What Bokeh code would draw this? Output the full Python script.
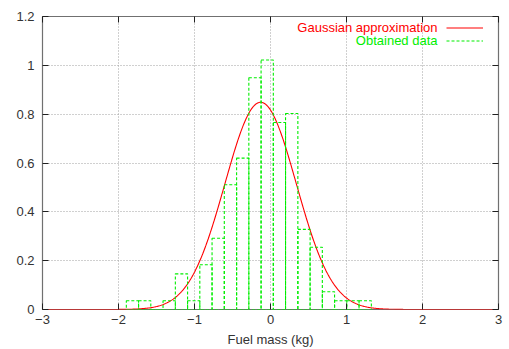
import numpy as np
from bokeh.plotting import figure
from bokeh.models import (FixedTicker, LinearAxis, Legend, LegendItem, Label,
                          ColumnDataSource, CustomJSTickFormatter)
from bokeh.core.properties import value
from bokeh.embed import file_html
from bokeh.resources import INLINE

# Histogram of obtained fuel mass deviations (normalised density)
bin_edges = [-1.897, -1.736, -1.575, -1.414, -1.252, -1.091, -0.930, -0.769,
             -0.608, -0.446, -0.285, -0.124, 0.037, 0.198, 0.360, 0.521,
             0.682, 0.843, 1.004, 1.165, 1.327]
density = [0.036, 0.036, 0.0, 0.036, 0.146, 0.036, 0.183, 0.292, 0.511,
           0.620, 0.949, 1.022, 0.766, 0.803, 0.328, 0.255, 0.073, 0.036,
           0.036, 0.036]

# Gaussian approximation parameters
gauss_mu = -0.13
gauss_sigma = 0.47

x_ticks = [-3, -2, -1, 0, 1, 2, 3]
y_ticks = [0, 0.2, 0.4, 0.6, 0.8, 1.0, 1.2]
y_tick_labels = ["0", "0.2", "0.4", "0.6", "0.8", "1", "1.2"]

FONT = "Liberation Sans"
RED = "#ff0000"
GREEN = "#00ee00"

p = figure(width=509, height=349, x_range=(-3, 3), y_range=(0, 1.2),
           output_backend="svg", toolbar_location=None,
           min_border_left=42, min_border_right=11, min_border_top=16,
           min_border_bottom=40)
p.background_fill_color = "white"
p.border_fill_color = "white"
p.outline_line_color = "#707070"
p.outline_line_width = 1.2

# grid
for g in (p.xgrid, p.ygrid):
    g.grid_line_color = "#a0a0a0"
    g.grid_line_dash = "1 2"
    g.grid_line_width = 1
p.xgrid.ticker = FixedTicker(ticks=x_ticks)
p.ygrid.ticker = FixedTicker(ticks=y_ticks)


def style_axis(ax, ticks):
    ax.ticker = FixedTicker(ticks=ticks)
    ax.axis_line_color = None
    ax.major_tick_in = 6
    ax.major_tick_out = 0
    ax.major_tick_line_color = "#202020"
    ax.minor_tick_line_color = None
    ax.major_label_text_font = FONT
    ax.major_label_text_font_size = "13px"
    ax.major_label_text_color = "#333333"


style_axis(p.xaxis[0], x_ticks)
style_axis(p.yaxis[0], y_ticks)
p.yaxis[0].major_label_overrides = {t: s for t, s in zip(y_ticks, y_tick_labels)}
p.yaxis[0].major_label_standoff = 8
p.xaxis[0].major_label_standoff = 5
p.xaxis[0].axis_label = "Fuel mass (kg)"
p.xaxis[0].axis_label_text_font = FONT
p.xaxis[0].axis_label_text_font_size = "13px"
p.xaxis[0].axis_label_text_font_style = "normal"
p.xaxis[0].axis_label_text_color = "#333333"
p.xaxis[0].axis_label_standoff = 5

# mirrored ticks on top and right, without labels
for ax, ticks, side in ((LinearAxis(), x_ticks, "above"),
                        (LinearAxis(), y_ticks, "right")):
    style_axis(ax, ticks)
    ax.formatter = CustomJSTickFormatter(code="return ''")
    ax.major_label_standoff = 0
    p.add_layout(ax, side)

# Gaussian curve
gx = np.linspace(-3, 3, 601)
gy = np.exp(-0.5 * ((gx - gauss_mu) / gauss_sigma) ** 2) / (gauss_sigma * np.sqrt(2 * np.pi))
r_gauss = p.line(gx, gy, line_color=RED, line_width=1.1)

# histogram boxes
hist = ColumnDataSource(dict(left=bin_edges[:-1], right=bin_edges[1:],
                             top=density, bottom=[0.0] * len(density)))
p.quad(left="left", right="right", top="top", bottom="bottom", source=hist,
       fill_alpha=0, line_color=GREEN, line_width=1.1, line_dash="3 2")

# key sample for the dashed boxes (a line renderer with no visible points)
r_data_key = p.line(x=[np.nan], y=[np.nan], line_color=GREEN, line_width=1.1,
                    line_dash="3 2")

legend = Legend(items=[LegendItem(label=value(" "), renderers=[r_gauss]),
                       LegendItem(label=value(" "), renderers=[r_data_key])],
                location=(404, 262), glyph_width=37, glyph_height=13,
                label_height=13, label_width=0, label_standoff=0,
                label_text_font_size="1px", padding=0, spacing=0, margin=0,
                border_line_alpha=0, background_fill_alpha=0)
p.add_layout(legend)

p.add_layout(Label(x=395, y=282, x_units="screen", y_units="screen",
                   text="Gaussian approximation", text_align="right",
                   text_baseline="middle", text_color=RED, text_font=FONT,
                   text_font_size="13px"))
p.add_layout(Label(x=395, y=269, x_units="screen", y_units="screen",
                   text="Obtained data", text_align="right",
                   text_baseline="middle", text_color=GREEN, text_font=FONT,
                   text_font_size="13px"))

open("out.html", "w").write(file_html(p, INLINE))
